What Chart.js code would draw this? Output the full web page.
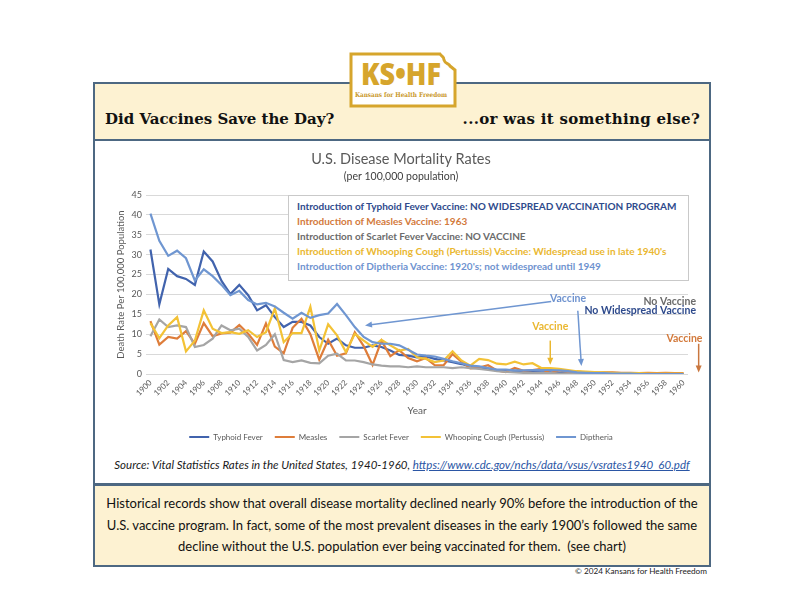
<!DOCTYPE html>
<html>
<head>
<meta charset="utf-8">
<script src="https://cdn.jsdelivr.net/npm/chart.js@4.4.0/dist/chart.umd.min.js"></script>
<style>
  body { margin: 0; width: 792px; height: 612px; background: #fff; position: relative; overflow: hidden; font-family: "Lato", "Open Sans", sans-serif; }
  .abs { position: absolute; box-sizing: border-box; }
  #header { left: 93px; top: 82px; width: 618px; height: 60px; background: #fdf2d2; border: 2px solid #4d6882; border-bottom-width: 3px; }
  #header span { position: absolute; top: 26px; font-family: "DejaVu Serif", serif; font-weight: bold; font-size: 15px; color: #111; white-space: nowrap; }
  #panel { left: 93px; top: 141px; width: 618px; height: 344px; background: #fff; border-left: 2px solid #4d6882; border-right: 2px solid #4d6882; }
  #chartWrap { left: 93px; top: 142px; width: 618px; height: 309px; }
  #introBox { left: 288px; top: 195px; width: 401px; height: 86px; background: #fff; border: 1px solid #c9c9c9; padding: 3px 0 0 8px; font-weight: bold; font-size: 10px; line-height: 15px; white-space: nowrap; }
  #source { left: 93px; top: 456px; width: 618px; text-align: center; font-style: italic; font-size: 11.5px; line-height: 18px; color: #1a1a1a; }
  #source a { color: #2b56a5; }
  #footer { left: 93px; top: 483px; width: 618px; height: 84px; background: #fdf2d2; border: 2px solid #4d6882; border-top-width: 3px; padding-top: 7px; text-align: center; font-size: 13px; line-height: 21.5px; color: #111; }
  #copy { right: 85px; top: 566px; font-size: 8.2px; color: #222; white-space: nowrap; }
  #logo { left: 348px; top: 52px; }
</style>
</head>
<body>

<div id="header" class="abs">
  <span style="left: 10px;">Did Vaccines Save the Day?</span>
  <span style="right: 9px; letter-spacing: 0.3px;">...or was it something else?</span>
</div>

<!-- logo KS•HF (contour approximatif du Kansas) -->
<svg id="logo" class="abs" width="110" height="57" viewBox="0 0 110 57">
  <path d="M3,2 L92,2 C94,5 96,4 96,8 C97,12 101,11 102,14 L107,18 L107,54 L3,54 Z" fill="#fff" stroke="#d6a52c" stroke-width="3"/>
  <text x="53" y="33" text-anchor="middle" textLength="80" lengthAdjust="spacingAndGlyphs" font-family="Open Sans" font-weight="800" font-size="30" fill="#d6a52c">KS•HF</text>
  <text x="53" y="44.5" text-anchor="middle" textLength="92" lengthAdjust="spacingAndGlyphs" font-family="DejaVu Serif" font-weight="bold" font-size="6.5" fill="#c9982a">Kansans for Health Freedom</text>
</svg>

<div id="panel" class="abs"></div>
<div id="chartWrap" class="abs"><canvas id="chart" width="618" height="309"></canvas></div>

<div id="introBox" class="abs">
  <div style="color:#2e4a8c">Introduction of Typhoid Fever Vaccine: NO WIDESPREAD VACCINATION PROGRAM</div>
  <div style="color:#d37a3c">Introduction of Measles Vaccine: 1963</div>
  <div style="color:#6b6b6b">Introduction of Scarlet Fever Vaccine: NO VACCINE</div>
  <div style="color:#eab730">Introduction of Whooping Cough (Pertussis) Vaccine: Widespread use in late 1940's</div>
  <div style="color:#6f93cf">Introduction of Diptheria Vaccine: 1920's; not widespread until 1949</div>
</div>

<div id="source" class="abs">Source: Vital Statistics Rates in the United States, 1940-1960, <a href="#">https://www.cdc.gov/nchs/data/vsus/vsrates1940_60.pdf</a></div>

<div id="footer" class="abs">
  Historical records show that overall disease mortality declined nearly 90% before the introduction of the<br>
  U.S. vaccine program. In fact, some of the most prevalent diseases in the early 1900’s followed the same<br>
  decline without the U.S. population ever being vaccinated for them.&nbsp; (see chart)
</div>
<div id="copy" class="abs">© 2024 Kansans for Health Freedom</div>

<script>
// Années (catégories de l'axe X)
const years = [
  1900, 1901, 1902, 1903, 1904, 1905, 1906, 1907, 1908, 1909,
  1910, 1911, 1912, 1913, 1914, 1915, 1916, 1917, 1918, 1919,
  1920, 1921, 1922, 1923, 1924, 1925, 1926, 1927, 1928, 1929,
  1930, 1931, 1932, 1933, 1934, 1935, 1936, 1937, 1938, 1939,
  1940, 1941, 1942, 1943, 1944, 1945, 1946, 1947, 1948, 1949,
  1950, 1951, 1952, 1953, 1954, 1955, 1956, 1957, 1958, 1959,
  1960
];

// Taux de mortalité pour 100 000 habitants
const typhoid = [
  31.3, 17.5, 26.4, 24.6, 23.9, 22.4, 30.8, 28.3, 23.4, 20.1,
  22.4, 19.8, 16.0, 17.3, 14.3, 11.8, 13.1, 13.1, 12.2, 9.3,
  7.6, 8.9, 7.2, 6.6, 6.6, 7.2, 6.8, 5.9, 4.8, 4.6,
  4.2, 4.4, 3.8, 3.4, 3.0, 2.5, 1.9, 1.5, 1.3, 0.9,
  1.0, 0.8, 0.6, 0.5, 0.4, 0.4, 0.3, 0.2, 0.2, 0.1,
  0.1, 0.1, 0.1, 0.1, 0.1, 0.0, 0.0, 0.0, 0.0, 0.0,
  0.0
];
const measles = [
  13.3, 7.4, 9.3, 8.9, 10.8, 7.6, 12.8, 9.5, 10.2, 10.4,
  12.3, 10.1, 7.3, 12.7, 6.9, 5.2, 11.6, 13.9, 10.0, 3.6,
  8.6, 4.6, 5.2, 10.5, 7.0, 2.3, 8.4, 4.5, 6.0, 4.0,
  3.2, 4.0, 2.2, 2.2, 5.0, 3.1, 1.4, 1.6, 2.2, 0.9,
  0.5, 1.5, 0.8, 1.0, 1.3, 0.2, 0.9, 0.5, 0.6, 0.4,
  0.3, 0.4, 0.4, 0.3, 0.3, 0.2, 0.3, 0.2, 0.3, 0.2,
  0.2
];
const scarletFever = [
  9.5, 13.7, 11.8, 12.2, 11.8, 6.8, 7.3, 8.9, 12.2, 11.0,
  11.4, 9.3, 5.9, 7.3, 10.0, 3.5, 3.0, 3.4, 2.8, 2.7,
  4.6, 5.1, 3.4, 3.4, 3.0, 2.4, 2.1, 1.9, 1.9, 1.7,
  1.9, 1.7, 1.7, 1.7, 1.5, 1.7, 1.5, 1.3, 1.0, 0.7,
  0.5, 0.4, 0.3, 0.3, 0.2, 0.2, 0.1, 0.1, 0.1, 0.1,
  0.1, 0.1, 0.1, 0.0, 0.0, 0.0, 0.0, 0.0, 0.0, 0.0,
  0.0
];
const whoopingCough = [
  12.8, 9.0, 12.2, 14.3, 5.7, 8.4, 16.0, 11.4, 10.3, 10.5,
  10.1, 11.0, 9.3, 10.5, 16.5, 8.0, 10.3, 10.3, 16.9, 5.9,
  12.5, 9.7, 5.5, 10.1, 8.4, 6.8, 8.6, 7.2, 5.9, 6.3,
  4.2, 3.8, 3.0, 3.4, 5.7, 3.4, 2.1, 3.8, 3.5, 2.6,
  2.4, 3.1, 2.4, 2.7, 1.5, 1.5, 1.3, 1.0, 0.7, 0.6,
  0.5, 0.4, 0.3, 0.2, 0.2, 0.2, 0.1, 0.1, 0.1, 0.1,
  0.1
];
const diptheria = [
  40.3, 33.5, 29.7, 31.0, 29.1, 23.5, 26.3, 24.6, 22.4, 19.8,
  20.9, 18.6, 17.5, 17.9, 17.0, 15.4, 13.9, 15.4, 14.1, 14.8,
  15.2, 17.6, 14.8, 11.8, 9.3, 8.0, 7.6, 7.6, 7.2, 6.1,
  4.9, 4.6, 4.4, 3.8, 3.2, 2.7, 2.1, 1.9, 1.5, 1.1,
  1.1, 0.9, 0.9, 1.0, 1.0, 1.0, 0.9, 0.7, 0.4, 0.3,
  0.2, 0.2, 0.1, 0.1, 0.1, 0.0, 0.0, 0.0, 0.0, 0.0,
  0.0
];

// Couleurs des séries (palette Excel)
const COLORS = {
  typhoid: "#4163ad",
  measles: "#de7d3a",
  scarlet: "#a5a5a5",
  whooping: "#f3c236",
  diptheria: "#6f96d1"
};
const TEXT = "#595959";

// Annotations "Vaccine" (position en année / valeur)
const notes = [
  { text: "Vaccine", color: "#6f93cf", year: 1947.0, value: 19.0, align: "center" },
  { text: "No Vaccine", color: "#6b6b6b", year: 1961.4, value: 18.2, align: "right" },
  { text: "No Widespread Vaccine", color: "#2e4a8c", year: 1961.4, value: 16.0, align: "right" },
  { text: "Vaccine", color: "#eab730", year: 1945.0, value: 11.8, align: "center" },
  { text: "Vaccine", color: "#d37a3c", year: 1960.1, value: 8.9, align: "center" }
];
const arrows = [
  { color: COLORS.diptheria, from: [1945.1, 18.2], to: [1924.15, 12.2] },
  { color: COLORS.diptheria, from: [1948.1, 15.9], to: [1948.5, 2.0] },
  { color: "#eab730", from: [1945.0, 8.4], to: [1945.0, 2.3] },
  { color: "#c9773f", from: [1961.7, 7.6], to: [1961.7, 0.4] }
];

// Plugin maison pour dessiner les flèches et les textes
const vaccineNotes = {
  id: "vaccineNotes",
  afterDatasetsDraw(chart) {
    const { ctx, scales: { x, y } } = chart;
    const px = yr => x.getPixelForValue(yr - years[0]);
    ctx.save();
    arrows.forEach(a => {
      const x1 = px(a.from[0]), y1 = y.getPixelForValue(a.from[1]);
      const x2 = px(a.to[0]), y2 = y.getPixelForValue(a.to[1]);
      const ang = Math.atan2(y2 - y1, x2 - x1);
      ctx.strokeStyle = a.color;
      ctx.fillStyle = a.color;
      ctx.lineWidth = 1.5;
      ctx.beginPath();
      ctx.moveTo(x1, y1);
      ctx.lineTo(x2 - 4 * Math.cos(ang), y2 - 4 * Math.sin(ang));
      ctx.stroke();
      ctx.beginPath();
      ctx.moveTo(x2, y2);
      ctx.lineTo(x2 - 7 * Math.cos(ang) + 3 * Math.sin(ang), y2 - 7 * Math.sin(ang) - 3 * Math.cos(ang));
      ctx.lineTo(x2 - 7 * Math.cos(ang) - 3 * Math.sin(ang), y2 - 7 * Math.sin(ang) + 3 * Math.cos(ang));
      ctx.closePath();
      ctx.fill();
    });
    ctx.font = "bold 10.5px Lato";
    ctx.textBaseline = "middle";
    notes.forEach(n => {
      ctx.fillStyle = n.color;
      ctx.textAlign = n.align;
      ctx.fillText(n.text, px(n.year), y.getPixelForValue(n.value));
    });
    ctx.restore();
  }
};

Chart.defaults.font.family = "Lato";

const ctx = document.getElementById("chart").getContext("2d");
new Chart(ctx, {
  type: "line",
  data: {
    labels: years,
    datasets: [
      { label: "Typhoid Fever", data: typhoid, borderColor: COLORS.typhoid, backgroundColor: COLORS.typhoid, order: 4 },
      { label: "Measles", data: measles, borderColor: COLORS.measles, backgroundColor: COLORS.measles, order: 3 },
      { label: "Scarlet Fever", data: scarletFever, borderColor: COLORS.scarlet, backgroundColor: COLORS.scarlet, order: 2 },
      { label: "Whooping Cough (Pertussis)", data: whoopingCough, borderColor: COLORS.whooping, backgroundColor: COLORS.whooping, order: 1 },
      { label: "Diptheria", data: diptheria, borderColor: COLORS.diptheria, backgroundColor: COLORS.diptheria, order: 0 }
    ]
  },
  options: {
    responsive: false,
    animation: false,
    layout: { padding: { left: 21, right: 23, top: 0, bottom: 0 } },
    elements: {
      point: { radius: 0 },
      line: { borderWidth: 2.2, tension: 0 }
    },
    plugins: {
      title: {
        display: true,
        text: "U.S. Disease Mortality Rates",
        color: TEXT,
        font: { size: 14.5, weight: "normal" },
        padding: { top: 9, bottom: 2 }
      },
      subtitle: {
        display: true,
        text: "(per 100,000 population)",
        color: "#404040",
        font: { size: 10.5 },
        padding: { top: 0, bottom: 12 }
      },
      legend: {
        position: "bottom",
        labels: {
          boxWidth: 20,
          boxHeight: 2,
          padding: 12,
          color: TEXT,
          font: { size: 8 },
          sort: (a, b) => a.datasetIndex - b.datasetIndex,
          generateLabels: chart => Chart.defaults.plugins.legend.labels.generateLabels(chart).map(l => ({ ...l, lineWidth: 0 }))
        }
      },
      tooltip: { enabled: false }
    },
    scales: {
      x: {
        offset: true,
        grid: { display: false, drawTicks: false },
        border: { display: false },
        ticks: {
          autoSkip: false,
          minRotation: 45,
          maxRotation: 45,
          padding: 4,
          color: TEXT,
          font: { size: 8 },
          callback: function (v, i) { return i % 2 === 0 ? this.getLabelForValue(v) : ""; }
        },
        title: { display: true, text: "Year", color: TEXT, font: { size: 10 }, padding: { top: 0, bottom: 4 } },
        afterFit: s => { s.height = 47; }
      },
      y: {
        min: 0,
        max: 45,
        ticks: { stepSize: 5, padding: 4, color: TEXT, font: { size: 9 } },
        grid: { color: "#d9d9d9", drawTicks: false },
        border: { display: false },
        title: { display: true, text: "Death Rate Per 100,000 Population", color: TEXT, font: { size: 9.5 }, padding: { top: 1.5, bottom: 0 } },
        afterFit: s => { s.width = 32; }
      }
    }
  },
  plugins: [vaccineNotes]
});
</script>
</body>
</html>
